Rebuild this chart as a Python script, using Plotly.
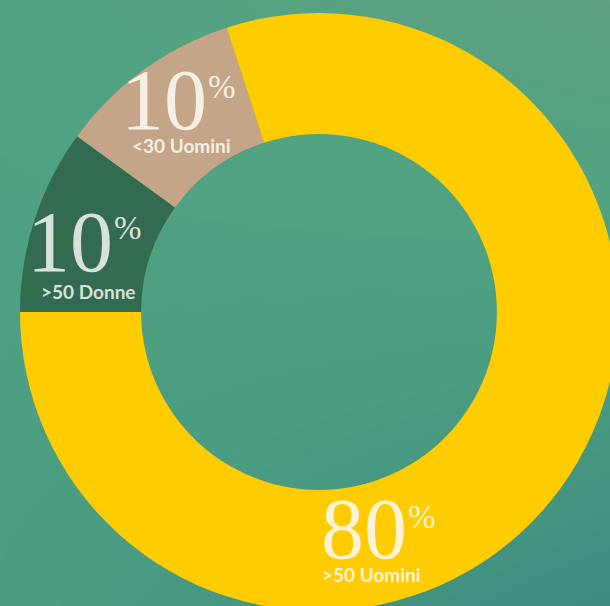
import plotly.graph_objects as go

# ---- data ----
labels = [">50 Donne", "<30 Uomini", ">50 Uomini"]
values = [10, 10, 80]
pct_text = ["10", "10", "80"]

# ---- style ----
slice_colors = ["#326b50", "#c4a587", "#ffcc00"]
text_colors = ["#d8e1da", "#f6efe5", "#fff4d8"]
W, H = 620, 612
NUM_SIZE = 86

def px(x):
    return x / W

def py(y):
    return 1 - y / H

fig = go.Figure()

# subtle gradient background
fig.add_trace(go.Heatmap(
    x=[0, 1], y=[0, 1],
    z=[[0.55, 1.0], [0.35, 0.0]],
    zsmooth="best", showscale=False, hoverinfo="skip",
    colorscale=[[0, "#5ea080"], [0.35, "#50a382"], [0.55, "#4b9d82"], [1, "#3d8c80"]],
    zmin=0, zmax=1,
))

fig.add_trace(go.Pie(
    labels=labels, values=values, hole=0.595,
    sort=False, direction="clockwise", rotation=-90,
    marker=dict(colors=slice_colors, line=dict(width=0)),
    textinfo="none", hoverinfo="label+percent", showlegend=False,
    domain=dict(x=[px(20), px(618)], y=[py(611), py(13)]),
))

# label positions (pixel centers): number, percent sign (left edge), caption
num_pos = [(70, 242), (164, 100), (364, 529)]
pct_pos = [(113, 228), (207, 87), (407, 517)]
cap_pos = [(88, 291), (182, 145), (371, 574)]

for i in range(len(labels)):
    fig.add_annotation(x=px(num_pos[i][0]), y=py(num_pos[i][1]), xref="paper", yref="paper",
                       text=pct_text[i], showarrow=False, xanchor="center", yanchor="middle",
                       borderpad=0, height=64, valign="middle",
                       font=dict(family="Liberation Serif", size=NUM_SIZE, color=text_colors[i]))
    fig.add_annotation(x=px(pct_pos[i][0]), y=py(pct_pos[i][1]), xref="paper", yref="paper",
                       text="%", showarrow=False, xanchor="left", yanchor="middle",
                       borderpad=0,
                       font=dict(family="Liberation Serif", size=33, color=text_colors[i]))
    fig.add_annotation(x=px(cap_pos[i][0]), y=py(cap_pos[i][1]), xref="paper", yref="paper",
                       text="<b>" + labels[i].replace("<", "&lt;").replace(">", "&gt;") + "</b>",
                       showarrow=False, xanchor="center", yanchor="middle", borderpad=0,
                       font=dict(family="Lato", size=19, color=text_colors[i]))

fig.update_layout(
    width=W, height=H,
    margin=dict(l=0, r=0, t=0, b=0),
    paper_bgcolor="#4c9e83", plot_bgcolor="#4c9e83",
    xaxis=dict(visible=False, range=[0, 1], fixedrange=True),
    yaxis=dict(visible=False, range=[0, 1], fixedrange=True),
    showlegend=False,
)

fig.write_html(
    "out.html",
    config={"displayModeBar": False},
    post_script="document.documentElement.style.overflow='hidden';"
                "document.body.style.overflow='hidden';document.body.style.margin='0';",
)
